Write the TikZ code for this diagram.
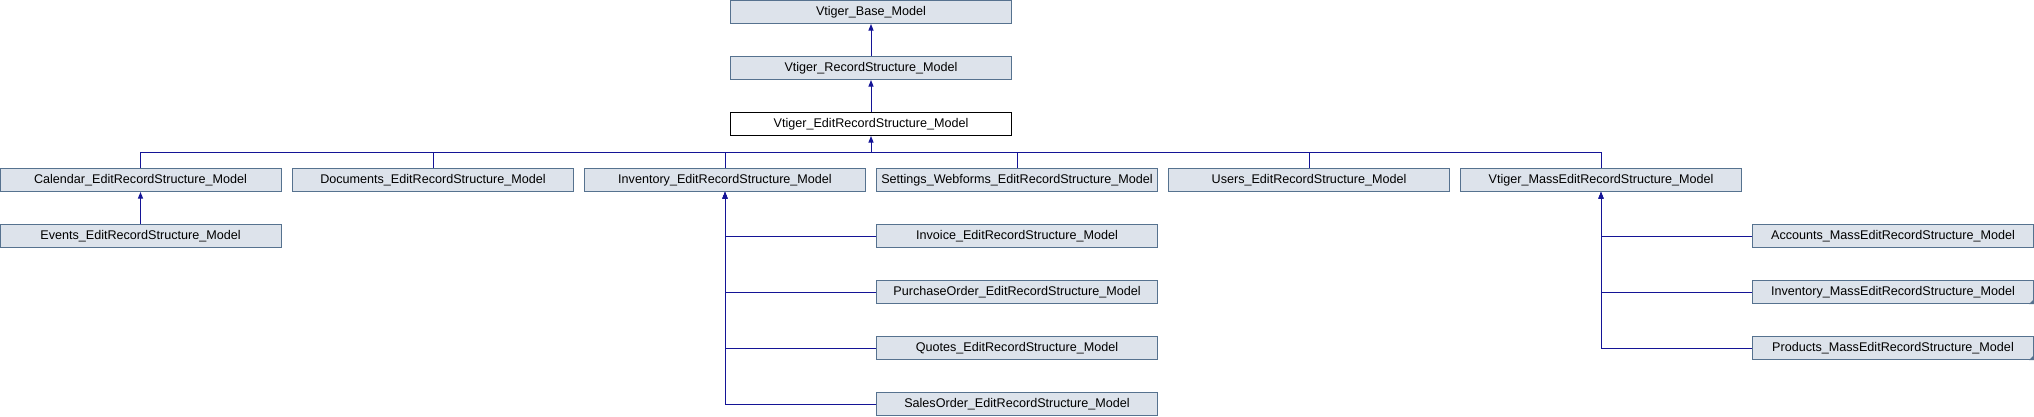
\documentclass[tikz,border=0pt]{standalone}
\usepackage{fontspec}
\setmainfont{Liberation Sans}
\usetikzlibrary{arrows.meta}
\definecolor{boxfill}{HTML}{DDE3EB}
\definecolor{boxline}{HTML}{56728F}
\definecolor{edgecol}{HTML}{141496}
\begin{document}
\begin{tikzpicture}[x=1pt,y=-1pt,
  cls/.style={draw=boxline,fill=boxfill,line width=1pt,minimum width=281pt,minimum height=23pt,inner sep=0pt,font=\fontsize{12.6}{14}\selectfont},
  cur/.style={cls,draw=black,fill=white},
  edge/.style={draw=edgecol,line width=1pt},
  arr/.style={edge,-{Triangle[length=6.5pt,width=5pt]}}]
\useasboundingbox (0,0) rectangle (2034,416);
\node[cls] (base) at (871,12) {Vtiger\_Base\_Model};
\node[cls] (rec) at (871,68) {Vtiger\_RecordStructure\_Model};
\node[cur] (edit) at (871,124) {Vtiger\_EditRecordStructure\_Model};
\node[cls] (cal) at (140.5,180) {Calendar\_EditRecordStructure\_Model};
\node[cls] (doc) at (433,180) {Documents\_EditRecordStructure\_Model};
\node[cls] (inv) at (725,180) {Inventory\_EditRecordStructure\_Model};
\node[cls] (set) at (1017,180) {Settings\_Webforms\_EditRecordStructure\_Model};
\node[cls] (usr) at (1309,180) {Users\_EditRecordStructure\_Model};
\node[cls] (mass) at (1601,180) {Vtiger\_MassEditRecordStructure\_Model};
\node[cls] (evt) at (140.5,236) {Events\_EditRecordStructure\_Model};
\node[cls] (invc) at (1017,236) {Invoice\_EditRecordStructure\_Model};
\node[cls] (po) at (1017,292) {PurchaseOrder\_EditRecordStructure\_Model};
\node[cls] (quo) at (1017,348) {Quotes\_EditRecordStructure\_Model};
\node[cls] (so) at (1017,404) {SalesOrder\_EditRecordStructure\_Model};
\node[cls] (acc) at (1893,236) {Accounts\_MassEditRecordStructure\_Model};
\node[cls] (imass) at (1893,292) {Inventory\_MassEditRecordStructure\_Model};
\node[cls] (pmass) at (1893,348) {Products\_MassEditRecordStructure\_Model};
\foreach \n in {imass,pmass}
  \fill[boxline] (\n.south east) ++(-5,0) -- (\n.south east) -- ++(0,-5) -- cycle;
\draw[arr] (rec.north) -- (base.south);
\draw[arr] (edit.north) -- (rec.south);
\coordinate (bus) at (871,152);
\foreach \n in {cal,doc,inv,set,usr,mass}
  \draw[edge] (\n.north) |- (bus);
\draw[arr] (bus) -- (edit.south);
\draw[arr] (evt.north) -- (cal.south);
\foreach \n in {invc,po,quo,so}
  \draw[arr] (\n.west) -| (inv.south);
\foreach \n in {acc,imass,pmass}
  \draw[arr] (\n.west) -| (mass.south);
\end{tikzpicture}
\end{document}
